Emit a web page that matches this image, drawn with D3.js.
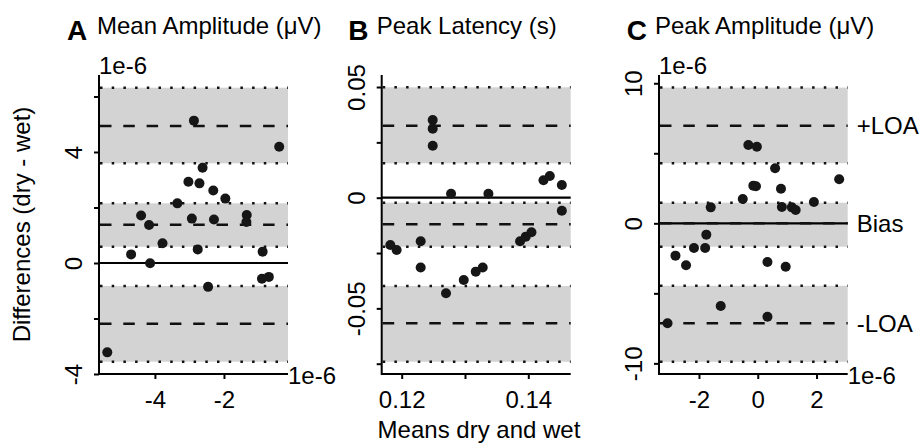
<!DOCTYPE html>
<html>
<head>
<meta charset="utf-8">
<script src="https://cdn.jsdelivr.net/npm/d3@7"></script>
<style>
  body { margin: 0; background: #fff; }
  text { font-family: "Liberation Sans", Arial, sans-serif; fill: #000; }
</style>
</head>
<body>
<div id="chart"></div>
<script>
var width = 919,
    height = 443;

// panel headings
var panelLetters = ["A", "B", "C"];
var panelTitles = ["Mean Amplitude (\u03bcV)", "Peak Latency (s)", "Peak Amplitude (\u03bcV)"];

// A: mean amplitude (x 1e-6)
var meanAmpMeans = [-2.87, -0.40, -2.62, -3.03, -2.71, -2.31, -1.96, -3.35, -4.40, -4.17, -2.93, -2.29,
                    -1.34, -1.35, -3.78, -4.69, -2.76, -4.14, -0.88, -0.90, -0.70, -2.46, -5.38];
var meanAmpDiffs = [5.13, 4.19, 3.43, 2.93, 2.87, 2.61, 2.32, 2.15, 1.71, 1.37, 1.60, 1.57,
                    1.73, 1.48, 0.71, 0.31, 0.49, -0.01, 0.41, -0.57, -0.50, -0.86, -3.22];
// lower LOA ci, bias ci, upper LOA ci (lo, mid, hi)
var meanAmpLoa = [[-3.557, -2.187, -0.829], [0.587, 1.380, 2.151], [3.593, 4.937, 6.317]];
var meanAmpXTicks = [-4, -2];
var meanAmpYTicks = [-4, -2, 0, 2, 4, 6];
var meanAmpYLabels = ["-4", "", "0", "", "4", ""];

// B: peak latency (s)
var latencyMeans = [0.1249, 0.1249, 0.1249, 0.1278, 0.1337, 0.1424, 0.1434, 0.1453, 0.1453, 0.1387,
                    0.1396, 0.1405, 0.1230, 0.1182, 0.1192, 0.1230, 0.1270, 0.1298, 0.1317, 0.1328];
var latencyDiffs = [0.0351, 0.0312, 0.0235, 0.0018, 0.0018, 0.0079, 0.0098, 0.0057, -0.0059, -0.0197,
                    -0.0176, -0.0156, -0.0197, -0.0214, -0.0236, -0.0315, -0.0432, -0.0372, -0.0334, -0.0315];
var latencyLoa = [[-0.07409, -0.05674, -0.03989], [-0.02214, -0.0120, -0.00226], [0.01554, 0.03253, 0.04987]];
var latencyXTicks = [0.12, 0.13, 0.14];
var latencyXLabels = ["0.12", "", "0.14"];
var latencyYTicks = [-0.075, -0.05, -0.025, 0, 0.025, 0.05];
var latencyYLabels = ["", "-0.05", "", "0", "", "0.05"];

// C: peak amplitude (x 1e-6)
var peakAmpMeans = [-0.32, -0.03, 0.59, 2.77, -0.15, -0.06, 0.79, -0.51, -1.60, 0.82, 1.16, 1.29,
                    1.91, -1.75, -2.17, -1.79, -2.80, -2.44, 0.33, 0.95, -1.26, 0.33, -3.07];
var peakAmpDiffs = [5.59, 5.47, 3.93, 3.14, 2.69, 2.64, 2.47, 1.74, 1.14, 1.16, 1.14, 0.95,
                    1.52, -0.81, -1.76, -1.76, -2.31, -3.00, -2.76, -3.10, -5.91, -6.67, -7.14];
var peakAmpLoa = [[-9.89, -7.14, -4.46], [-1.67, 0.0, 1.47], [4.29, 6.97, 9.69]];
var peakAmpXTicks = [-2, 0, 2];
var peakAmpYTicks = [-10, -5, 0, 5, 10];
var peakAmpYLabels = ["-10", "", "0", "", "10"];

var loaLabels = ["-LOA", "Bias", "+LOA"];


var svg = d3.select("#chart")
            .append("svg")
              .attr("width", width)
              .attr("height", height);

var plotTop = 75,
    plotBottom = 374,
    tickLen = 5;

var panels = [
  {left: 99, right: 288, xDomain: [-5.62, -0.145], yDomain: [-4.0, 6.775],
   means: meanAmpMeans, diffs: meanAmpDiffs, loa: meanAmpLoa,
   xTicks: meanAmpXTicks, xLabels: null, yTicks: meanAmpYTicks, yLabels: meanAmpYLabels,
   sci: true, letterX: 67, titleX: 97},
  {left: 381.7, right: 570.7, xDomain: [0.11684, 0.1467], yDomain: [-0.07965, 0.05543],
   means: latencyMeans, diffs: latencyDiffs, loa: latencyLoa,
   xTicks: latencyXTicks, xLabels: latencyXLabels, yTicks: latencyYTicks, yLabels: latencyYLabels,
   sci: false, letterX: 348.3, titleX: 376.7},
  {left: 659, right: 847.7, xDomain: [-3.36, 3.06], yDomain: [-10.76, 10.59],
   means: peakAmpMeans, diffs: peakAmpDiffs, loa: peakAmpLoa,
   xTicks: peakAmpXTicks, xLabels: null, yTicks: peakAmpYTicks, yLabels: peakAmpYLabels,
   sci: true, letterX: 626.7, titleX: 655, labels: loaLabels}
];

panels.forEach(function(p, i) {
  var g = svg.append("g");

  var x = d3.scaleLinear().domain(p.xDomain).range([p.left, p.right]);
  var y = d3.scaleLinear().domain(p.yDomain).range([plotBottom, plotTop]);

  // grey confidence bands
  g.selectAll(".band")
    .data(p.loa)
  .enter().append("rect")
    .attr("x", p.left)
    .attr("width", p.right - p.left)
    .attr("y", function(d) { return y(d[2]); })
    .attr("height", function(d) { return y(d[0]) - y(d[2]); })
    .attr("fill", "#d3d3d3");

  // dotted band edges
  var edges = [];
  p.loa.forEach(function(d) { edges.push(d[0], d[2]); });
  g.selectAll(".edge")
    .data(edges)
  .enter().append("line")
    .attr("x1", p.left + 1)
    .attr("x2", p.right)
    .attr("y1", function(d) { return y(d); })
    .attr("y2", function(d) { return y(d); })
    .attr("stroke", "#111")
    .attr("stroke-width", 2.5)
    .attr("stroke-dasharray", "2.5,9.2");

  // zero line
  g.append("line")
    .attr("x1", p.left)
    .attr("x2", p.right)
    .attr("y1", y(0))
    .attr("y2", y(0))
    .attr("stroke", "#000")
    .attr("stroke-width", 2.2);

  // dashed bias and limits
  g.selectAll(".mid")
    .data(p.loa)
  .enter().append("line")
    .attr("x1", p.left + 1)
    .attr("x2", p.right)
    .attr("y1", function(d) { return y(d[1]); })
    .attr("y2", function(d) { return y(d[1]); })
    .attr("stroke", "#111")
    .attr("stroke-width", 2.5)
    .attr("stroke-dasharray", "11.5,11.8");

  // points
  g.selectAll(".dot")
    .data(p.means)
  .enter().append("circle")
    .attr("cx", function(d) { return x(d); })
    .attr("cy", function(d, j) { return y(p.diffs[j]); })
    .attr("r", 5)
    .attr("fill", "#161616");

  // axes (L shape)
  g.append("path")
    .attr("d", "M" + p.left + "," + plotTop + "V" + plotBottom + "H" + p.right)
    .attr("fill", "none")
    .attr("stroke", "#000")
    .attr("stroke-width", 2);

  var xAxis = d3.axisBottom(x)
                .tickValues(p.xTicks)
                .tickSize(tickLen)
                .tickFormat(function(d, j) { return p.xLabels ? p.xLabels[j] : d3.format("")(d); });
  var gx = g.append("g")
    .attr("transform", "translate(0," + plotBottom + ")")
    .call(xAxis);
  gx.select(".domain").remove();
  gx.selectAll(".tick line").attr("stroke", "#000").attr("stroke-width", 2);
  gx.selectAll(".tick text")
    .attr("y", 34)
    .attr("dy", null)
    .style("font-size", "24px")
    .style("font-family", "Liberation Sans, Arial, sans-serif")
    .text(function(d, j) { return p.xLabels ? p.xLabels[j] : (d < 0 ? "-" + Math.abs(d) : "" + d); });

  var yAxis = d3.axisLeft(y)
                .tickValues(p.yTicks)
                .tickSize(tickLen)
                .tickFormat(function(d, j) { return p.yLabels[j]; });
  var gy = g.append("g")
    .attr("transform", "translate(" + p.left + ",0)")
    .call(yAxis);
  gy.select(".domain").remove();
  gy.selectAll(".tick line").attr("stroke", "#000").attr("stroke-width", 2);
  gy.selectAll(".tick text")
    .attr("x", null)
    .attr("dy", null)
    .attr("transform", "translate(-17,0) rotate(-90)")
    .attr("text-anchor", "middle")
    .style("font-size", "24px")
    .style("font-family", "Liberation Sans, Arial, sans-serif");

  // scale factor notes
  if (p.sci) {
    g.append("text")
      .attr("x", p.left)
      .attr("y", 74)
      .style("font-size", "24px")
      .text("1e-6");
    g.append("text")
      .attr("x", p.right)
      .attr("y", 384)
      .style("font-size", "24px")
      .text("1e-6");
  }

  // right-side labels
  if (p.labels) {
    g.selectAll(".loa-label")
      .data(p.loa)
    .enter().append("text")
      .attr("x", p.right + 9)
      .attr("y", function(d) { return y(d[1]) + 8.5; })
      .style("font-size", "24px")
      .text(function(d, j) { return p.labels[j]; });
  }

  // headings
  g.append("text")
    .attr("x", p.letterX)
    .attr("y", 40)
    .style("font-size", "28px")
    .style("font-weight", "bold")
    .text(panelLetters[i]);
  g.append("text")
    .attr("x", p.titleX)
    .attr("y", 34.3)
    .style("font-size", "24px")
    .text(panelTitles[i]);
});

// shared axis titles
svg.append("text")
  .attr("transform", "translate(30,224.5) rotate(-90)")
  .attr("text-anchor", "middle")
  .style("font-size", "24px")
  .text("Differences (dry - wet)");

svg.append("text")
  .attr("x", 479)
  .attr("y", 438)
  .attr("text-anchor", "middle")
  .style("font-size", "24px")
  .text("Means dry and wet");
</script>
</body>
</html>
